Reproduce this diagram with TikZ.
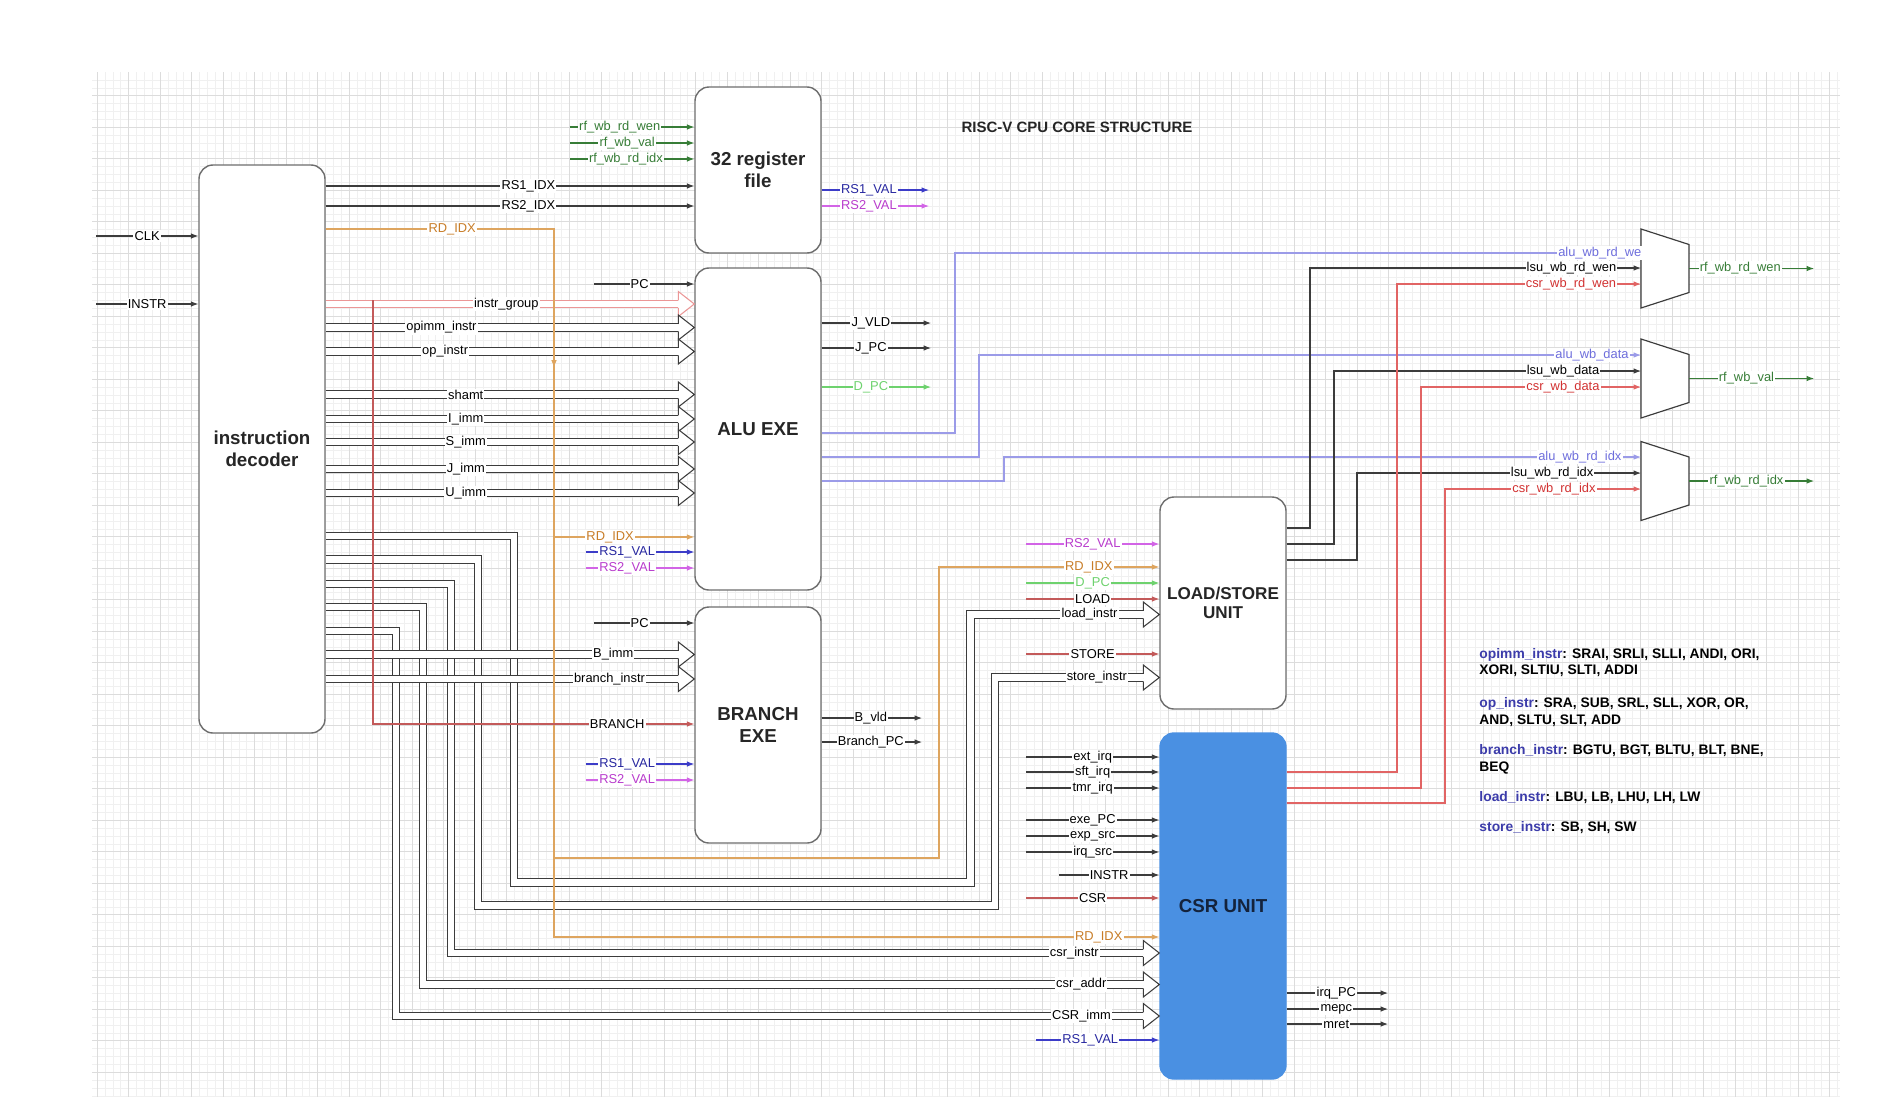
\documentclass[tikz,border=0pt]{standalone}
\usepackage{fontspec}
\setmainfont{Liberation Sans}
\usetikzlibrary{arrows.meta,decorations.markings}

\newcommand{\lblfont}{\fontsize{5.5}{6}\selectfont}
\newcommand{\blkfont}{\fontsize{8}{9.4}\selectfont\bfseries}
\newcommand{\legfont}{\fontsize{5.9}{7.2}\selectfont\bfseries}
\newcommand{\ttlfont}{\fontsize{6.4}{7.5}\selectfont\bfseries}

\definecolor{boxgray}{RGB}{110,110,110}
\definecolor{wire}{RGB}{60,60,60}
\definecolor{rdline}{RGB}{222,165,95}
\definecolor{rdtext}{RGB}{200,125,40}
\definecolor{rsonel}{RGB}{60,60,200}
\definecolor{rsonet}{RGB}{40,40,160}
\definecolor{rstwol}{RGB}{210,100,230}
\definecolor{rstwot}{RGB}{185,60,205}
\definecolor{wbgreen}{RGB}{55,125,55}
\definecolor{dpcgreen}{RGB}{110,210,110}
\definecolor{ctrlred}{RGB}{195,90,90}
\definecolor{aluline}{RGB}{155,155,232}
\definecolor{alutext}{RGB}{110,110,220}
\definecolor{csrline}{RGB}{225,100,100}
\definecolor{csrtext}{RGB}{210,50,50}
\definecolor{grppink}{RGB}{235,150,150}
\definecolor{csrfill}{RGB}{74,144,226}
\definecolor{csrlabel}{RGB}{20,35,60}
\definecolor{legblue}{RGB}{60,60,170}
\definecolor{gminorc}{RGB}{240,240,240}
\definecolor{gmajorc}{RGB}{220,220,220}

\tikzset{
  gminor/.style={draw=gminorc, line width=0.25pt},
  gmajor/.style={draw=gmajorc, line width=0.35pt},
  blk/.style={draw=boxgray, line width=0.6pt, rounded corners=6pt, fill=white,
    align=center, font=\blkfont, text=black!85, inner sep=0pt, minimum width=18.9mm},
  sig/.style={draw=wire, line width=0.45pt, -{Latex[length=3.2pt,width=2.4pt]}},
  rdw/.style={sig, draw=rdline},
  aluw/.style={sig, draw=aluline},
  csrw/.style={sig, draw=csrline},
  ctrl/.style={sig, draw=ctrlred},
  lbl/.style={fill=white, inner sep=0.5pt, font=\lblfont},
  bus/.style={draw=wire, line width=0.45pt, double=white, double distance=2.7pt, shorten >=6.8pt},
  legend/.style={anchor=west, align=left, inner sep=0pt, font=\legfont},
  bushead/.pic={
    \draw[line width=0.45pt, fill=white] (-16,-3.75) -- (-16,-12.5) -- (0,0) -- (-16,12.5) -- (-16,3.75);
  },
  mux/.pic={
    \draw[draw=wire, line width=0.5pt, fill=white] (-24,-39.5) -- (24,-24) -- (24,24) -- (-24,39.5) -- cycle;
    \coordinate (-in) at (-24,0);
    \coordinate (-out) at (24,0);
  },
}

\begin{document}
\begin{tikzpicture}[x=0.15mm, y=-0.15mm]
\useasboundingbox (0,0) rectangle (1890,1114);
\fill[white] (0,0) rectangle (1890,1114);

% background grid
\foreach \k in {-4,...,217} \draw[gminor] ({128.6+7.875*\k},72) -- ({128.6+7.875*\k},1097);
\foreach \k in {-2,...,127} \draw[gminor] (92,{95.7+7.875*\k}) -- (1840,{95.7+7.875*\k});
\foreach \k in {-1,...,54} \draw[gmajor] ({128.6+31.5*\k},72) -- ({128.6+31.5*\k},1097);
\foreach \k in {0,...,31} \draw[gmajor] (92,{95.7+31.5*\k}) -- (1840,{95.7+31.5*\k});

\node[font=\ttlfont, text=black!85] (title) at (1077,127) {RISC-V CPU CORE STRUCTURE};

% blocks
\node[blk, minimum height=85.2mm] (dec) at (262,449) {instruction\\decoder};
\node[blk, minimum height=24.9mm] (rf) at (758,170) {32 register\\file};
\node[blk, minimum height=48.3mm] (alu) at (758,429) {ALU EXE};
\node[blk, minimum height=35.4mm] (br) at (758,725) {BRANCH\\EXE};
\node[blk, minimum height=31.8mm, font=\fontsize{7.3}{8.2}\selectfont\bfseries] (lsu) at (1223,603) {LOAD/STORE\\UNIT};
\node[blk, minimum height=51.9mm, draw=csrfill, fill=csrfill, text=csrlabel] (csr) at (1223,906) {CSR UNIT};

\pic (mwen) at (1665,268.5) {mux};
\pic (mdata) at (1665,378.5) {mux};
\pic (midx) at (1665,481) {mux};

% buses from the decoder
\draw[bus, draw=grppink] (dec.east |- 0,304) -- node[lbl, pos=.49] {instr\_group} (alu.west |- 0,304);
\pic[color=grppink] at (alu.west |- 0,304) {bushead};
\foreach \y/\lab/\p in {327.5/opimm\_instr/.314, 351.5/op\_instr/.324, 394.5/shamt/.38, 419/I\_imm/.38,
    442/S\_imm/.38, 469/J\_imm/.38, 493/U\_imm/.38} {
  \draw[bus] (dec.east |- 0,\y) -- node[lbl, pos=\p] {\lab} (alu.west |- 0,\y);
  \pic[color=wire] at (alu.west |- 0,\y) {bushead};
}
\draw[bus] (dec.east |- 0,536) -| (514,882.5) -| (970.5,614.5) -- node[lbl, pos=.63] {load\_instr} (lsu.west |- 0,614.5);
\pic[color=wire] at (lsu.west |- 0,614.5) {bushead};
\draw[bus] (dec.east |- 0,559.5) -| (478,905.5) -| (995,677.5) -- node[lbl, pos=.62] {store\_instr} (lsu.west |- 0,677.5);
\pic[color=wire] at (lsu.west |- 0,677.5) {bushead};
\draw[bus] (dec.east |- 0,584) -| (451,953) -- node[lbl, pos=.88] {csr\_instr} (csr.west |- 0,953);
\pic[color=wire] at (csr.west |- 0,953) {bushead};
\draw[bus] (dec.east |- 0,607) -| (423,984.5) -- node[lbl, pos=.894] {csr\_addr} (csr.west |- 0,984.5);
\pic[color=wire] at (csr.west |- 0,984.5) {bushead};
\draw[bus] (dec.east |- 0,631) -| (396,1016) -- node[lbl, pos=.898] {CSR\_imm} (csr.west |- 0,1016);
\pic[color=wire] at (csr.west |- 0,1016) {bushead};
\draw[bus] (dec.east |- 0,654.5) -- node[lbl, pos=.78] {B\_imm} (br.west |- 0,654.5);
\pic[color=wire] at (br.west |- 0,654.5) {bushead};
\draw[bus] (dec.east |- 0,679) -- node[lbl, pos=.77] {branch\_instr} (br.west |- 0,679);
\pic[color=wire] at (br.west |- 0,679) {bushead};

% decoder
\draw[sig] (96,236) -- node[lbl] {CLK} (dec.west |- 0,236);
\draw[sig] (96,304) -- node[lbl] {INSTR} (dec.west |- 0,304);
\draw[sig] (dec.east |- 0,186) -- node[lbl, pos=.55] {RS1\_IDX} (rf.west |- 0,186);
\draw[sig] (dec.east |- 0,206) -- node[lbl, pos=.55] {RS2\_IDX} (rf.west |- 0,206);
\draw[rdw, postaction={decorate}, decoration={markings, mark=at position .238 with {\arrow{Latex[length=3.2pt,width=2.4pt]}}}]
  (dec.east |- 0,229) -| node[lbl, pos=.277, text=rdtext] {RD\_IDX} (554,937)
  -- node[lbl, pos=.9, text=rdtext] {RD\_IDX} (csr.west |- 0,937);
\draw[rdw] (554,537) -- node[lbl, pos=.4, text=rdtext] {RD\_IDX} (alu.west |- 0,537);
\draw[rdw] (554,858) -| (939,567) -- node[lbl, pos=.68, text=rdtext] {RD\_IDX} (lsu.west |- 0,567);
\draw[ctrl] (373,300) |- node[lbl, pos=.88, text=black] {BRANCH} (br.west |- 0,724);

% register file
\foreach \y/\lab/\p in {127/rf\_wb\_rd\_wen/.4, 143/rf\_wb\_val/.46, 159/rf\_wb\_rd\_idx/.45}
  \draw[sig, draw=wbgreen] (570,\y) -- node[lbl, pos=\p, text=wbgreen] {\lab} (rf.west |- 0,\y);
\draw[sig, draw=rsonel] (rf.east |- 0,190) -- node[lbl, pos=.44, text=rsonet] {RS1\_VAL} (929,190);
\draw[sig, draw=rstwol] (rf.east |- 0,206) -- node[lbl, pos=.44, text=rstwot] {RS2\_VAL} (929,206);

% ALU
\draw[sig] (594,284) -- node[lbl, pos=.455] {PC} (alu.west |- 0,284);
\draw[sig, draw=rsonel] (586,552) -- node[lbl, pos=.38, text=rsonet] {RS1\_VAL} (alu.west |- 0,552);
\draw[sig, draw=rstwol] (586,568) -- node[lbl, pos=.38, text=rstwot] {RS2\_VAL} (alu.west |- 0,568);
\draw[sig] (alu.east |- 0,323) -- node[lbl, pos=.45] {J\_VLD} (931,323);
\draw[sig] (alu.east |- 0,348) -- node[lbl, pos=.45] {J\_PC} (931,348);
\draw[sig, draw=dpcgreen] (alu.east |- 0,387) -- node[lbl, pos=.45, text=dpcgreen] {D\_PC} (931,387);

% branch
\draw[sig] (594,623) -- node[lbl, pos=.455] {PC} (br.west |- 0,623);
\draw[sig, draw=rsonel] (586,764) -- node[lbl, pos=.38, text=rsonet] {RS1\_VAL} (br.west |- 0,764);
\draw[sig, draw=rstwol] (586,780) -- node[lbl, pos=.38, text=rstwot] {RS2\_VAL} (br.west |- 0,780);
\draw[sig] (br.east |- 0,718) -- node[lbl, pos=.49] {B\_vld} (922,718);
\draw[sig] (br.east |- 0,742) -- node[lbl, pos=.49] {Branch\_PC} (922,742);

% load/store unit
\draw[sig, draw=rstwol] (1026,544) -- node[lbl, text=rstwot] {RS2\_VAL} (lsu.west |- 0,544);
\draw[sig, draw=dpcgreen] (1026,583) -- node[lbl, text=dpcgreen] {D\_PC} (lsu.west |- 0,583);
\draw[ctrl] (1026,599) -- node[lbl, text=black] {LOAD} (lsu.west |- 0,599);
\draw[ctrl] (1026,654) -- node[lbl, text=black] {STORE} (lsu.west |- 0,654);

% csr unit
\foreach \y/\lab in {757/ext\_irq, 772/sft\_irq, 788/tmr\_irq, 820/exe\_PC, 836/exp\_src, 852/irq\_src}
  \draw[sig] (1026,\y) -- node[lbl] {\lab} (csr.west |- 0,\y);
\draw[sig] (1059,875) -- node[lbl] {INSTR} (csr.west |- 0,875);
\draw[ctrl] (1026,898) -- node[lbl, text=black] {CSR} (csr.west |- 0,898);
\draw[sig, draw=rsonel] (1036,1040) -- node[lbl, pos=.44, text=rsonet] {RS1\_VAL} (csr.west |- 0,1040);
\foreach \y/\lab in {993/irq\_PC, 1009/mepc, 1024/mret}
  \draw[sig] (csr.east |- 0,\y) -- node[lbl, pos=.49] {\lab} (1388,\y);

% write back muxes
\draw[aluw] (alu.east |- 0,433) -| (955,253) -- node[lbl, pos=.94, text=alutext] {alu\_wb\_rd\_we} (mwen-in |- 0,253);
\draw[aluw] (alu.east |- 0,457) -| (979,355) -- node[lbl, pos=.926, text=alutext] {alu\_wb\_data} (mdata-in |- 0,355);
\draw[aluw] (alu.east |- 0,481) -| (1004,457) -- node[lbl, pos=.904, text=alutext] {alu\_wb\_rd\_idx} (midx-in |- 0,457);
\draw[sig] (lsu.east |- 0,528) -| (1310,268) -- node[lbl, pos=.79] {lsu\_wb\_rd\_wen} (mwen-in |- 0,268);
\draw[sig] (lsu.east |- 0,544) -| (1334,371) -- node[lbl, pos=.746] {lsu\_wb\_data} (mdata-in |- 0,371);
\draw[sig] (lsu.east |- 0,560) -| (1357,473) -- node[lbl, pos=.687] {lsu\_wb\_rd\_idx} (midx-in |- 0,473);
\draw[csrw] (csr.east |- 0,772) -| (1397,284) -- node[lbl, pos=.713, text=csrtext] {csr\_wb\_rd\_wen} (mwen-in |- 0,284);
\draw[csrw] (csr.east |- 0,788) -| (1421,387) -- node[lbl, pos=.645, text=csrtext] {csr\_wb\_data} (mdata-in |- 0,387);
\draw[csrw] (csr.east |- 0,803) -| (1445,489) -- node[lbl, pos=.556, text=csrtext] {csr\_wb\_rd\_idx} (midx-in |- 0,489);
\draw[sig, draw=wbgreen] (mwen-out) -- node[lbl, pos=.41, text=wbgreen] {rf\_wb\_rd\_wen} (1814,268.5);
\draw[sig, draw=wbgreen] (mdata-out) -- node[lbl, pos=.46, text=wbgreen] {rf\_wb\_val} (1814,378.5);
\draw[sig, draw=wbgreen] (midx-out) -- node[lbl, pos=.46, text=wbgreen] {rf\_wb\_rd\_idx} (1814,481);

% legend
\node[legend] (legopimm) at (1479,662.5) {\textcolor{legblue}{opimm\_instr}: SRAI, SRLI, SLLI, ANDI, ORI,\\XORI, SLTIU, SLTI, ADDI};
\node[legend] (legop) at (1479,712) {\textcolor{legblue}{op\_instr}: SRA, SUB, SRL, SLL, XOR, OR,\\AND, SLTU, SLT, ADD};
\node[legend] (legbranch) at (1479,759.5) {\textcolor{legblue}{branch\_instr}: BGTU, BGT, BLTU, BLT, BNE,\\BEQ};
\node[legend] (legload) at (1479,798) {\textcolor{legblue}{load\_instr}: LBU, LB, LHU, LH, LW};
\node[legend] (legstore) at (1479,828) {\textcolor{legblue}{store\_instr}: SB, SH, SW};
\end{tikzpicture}
\end{document}
